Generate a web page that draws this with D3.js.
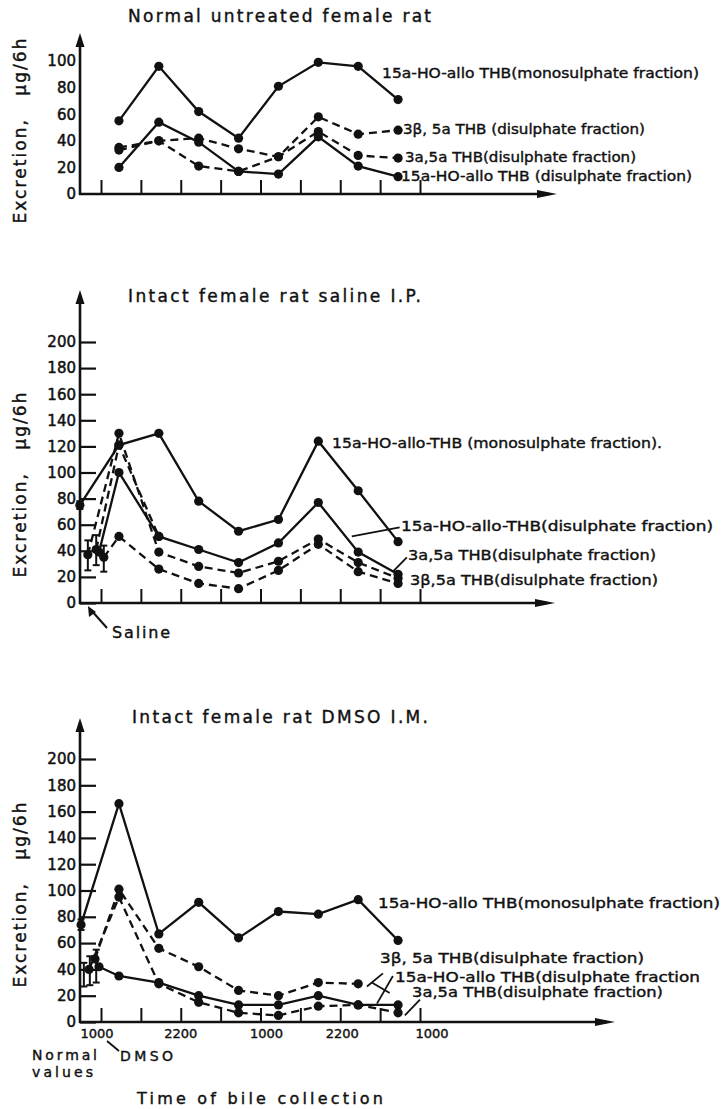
<!DOCTYPE html>
<html>
<head>
<meta charset="utf-8">
<script src="https://cdn.jsdelivr.net/npm/d3@7"></script>
<style>
body{margin:0;background:#fff;}
text{font-family:"DejaVu Sans",sans-serif;fill:#111;}
</style>
</head>
<body>
<svg class="fig" width="723" height="1109"></svg>
<script>
var svg = d3.select("svg.fig");

// 6h collection periods, plotted at the middle of each slot
var slots = [0.45, 1.45, 2.45, 3.45, 4.45, 5.45, 6.45, 7.45];

// Normal untreated female rat
var normalMono  = [55, 96, 62, 42, 81, 99, 96, 71];
var normalBeta  = [35, 40, 42, 34, 28, 58, 45, 48];
var normalAlpha = [33, 40, 21, 17, 28, 47, 29, 27];
var normalHoDi  = [20, 54, 39, 17, 15, 43, 21, 13];

// Intact female rat saline I.P. (first value = sample before injection)
var salineMono  = [75, 121, 130, 78, 55, 64, 124, 86, 47];
var salineHoDi  = [39, 100, 51, 41, 31, 46, 77, 39, 22];
var salineAlpha = [37, 130, 39, 28, 23, 32, 49, 31, 19];
var salineBeta  = [35, 51, 26, 15, 11, 25, 45, 24, 15];
var salineExtra = [41, 121, 51];
var salineStart = {mono: -0.53, hoDi: -0.05, alpha: -0.33, beta: 0.07, extra: -0.12};
var salineErr = [[-0.53, 75, 72, 78], [-0.33, 37, 25, 48], [-0.12, 41, 29, 52], [0.07, 35, 24, 44]];

// Intact female rat DMSO I.M.
var dmsoMono  = [74, 166, 67, 91, 64, 84, 82, 93, 62];
var dmsoBeta  = [48, 101, 56, 42, 24, 20, 30, 29];
var dmsoHoDi  = [42, 35, 30, 20, 13, 13, 20, 13, 13];
var dmsoAlpha = [40, 95, 29, 15, 7, 5, 12, 13, 7];
var dmsoStart = {mono: -0.5, beta: -0.15, hoDi: -0.05, alpha: -0.3};
var dmsoErr = [[-0.5, 74, 70, 78], [-0.43, 37, 27, 45], [-0.28, 40, 28, 50], [-0.12, 44, 30, 55]];

var timeTicks = [0, 1, 2, 3, 4, 5, 6, 7, 8];
var timeLabels = ["1000", "2200", "1000", "2200", "1000"];
var timeLabelPos = [-0.1, 2.0, 4.15, 6.05, 8.3];

var x = d3.scaleLinear().domain([0, 8]).range([101, 420]);

function pts(vals, start){
    return vals.map(function(v, i){
        if(start === undefined) return {x: slots[i], y: v};
        return {x: i === 0 ? start : slots[i-1], y: v};
    });
}

var panels = [
    {
        title: "Normal untreated female rat", tx: 128, ty: 22, tw: 303,
        y: d3.scaleLinear().domain([0, 100]).range([194, 61]),
        top: 33, xEnd: 557, yTicks: [0, 20, 40, 60, 80, 100], tickMarks: false, ylabY: 131,
        series: [
            {p: pts(normalMono), dash: false},
            {p: pts(normalBeta), dash: true},
            {p: pts(normalAlpha), dash: true},
            {p: pts(normalHoDi), dash: false}
        ],
        err: [],
        labels: [
            {t: "15a-HO-allo THB(monosulphate fraction)", x: 382, y: 73, w: 317},
            {t: "3\u03B2, 5a THB (disulphate fraction)", x: 403, y: 129, w: 242},
            {t: "3a,5a THB(disulphate fraction)", x: 405, y: 157, w: 231},
            {t: "15a-HO-allo THB (disulphate fraction)", x: 401, y: 176, w: 291}
        ],
        pointers: []
    },
    {
        title: "Intact female rat saline I.P.", tx: 128, ty: 302, tw: 293,
        y: d3.scaleLinear().domain([0, 200]).range([603, 342]),
        top: 290, xEnd: 555, yTicks: d3.range(0, 201, 20), tickMarks: true, ylabY: 485,
        series: [
            {p: pts(salineMono, salineStart.mono), dash: false},
            {p: pts(salineHoDi, salineStart.hoDi), dash: false},
            {p: pts(salineAlpha, salineStart.alpha), dash: true},
            {p: pts(salineBeta, salineStart.beta), dash: true},
            {p: pts(salineExtra, salineStart.extra), dash: true}
        ],
        err: salineErr,
        labels: [
            {t: "15a-HO-allo-THB (monosulphate fraction).", x: 332, y: 443, w: 330},
            {t: "15a-HO-allo-THB(disulphate fraction)", x: 401, y: 526, w: 312},
            {t: "3a,5a THB(disulphate fraction)", x: 408, y: 555, w: 248},
            {t: "3\u03B2,5a THB(disulphate fraction)", x: 410, y: 580, w: 248}
        ],
        pointers: [[7.49, 58, 6.29, 51], [7.67, 35, 7.32, 24]]
    },
    {
        title: "Intact female rat DMSO I.M.", tx: 132, ty: 723, tw: 296,
        y: d3.scaleLinear().domain([0, 200]).range([1022, 759]),
        top: 718, xEnd: 615, yTicks: d3.range(0, 201, 20), tickMarks: true, ylabY: 895,
        series: [
            {p: pts(dmsoMono, dmsoStart.mono), dash: false},
            {p: pts(dmsoBeta, dmsoStart.beta), dash: true},
            {p: pts(dmsoHoDi, dmsoStart.hoDi), dash: false},
            {p: pts(dmsoAlpha, dmsoStart.alpha), dash: true}
        ],
        err: dmsoErr,
        labels: [
            {t: "15a-HO-allo THB(monosulphate fraction)", x: 378, y: 903, w: 342},
            {t: "3\u03B2, 5a THB(disulphate fraction)", x: 380, y: 958, w: 264},
            {t: "15a-HO-allo THB(disulphate fraction", x: 395, y: 977, w: 305},
            {t: "3a,5a THB(disulphate fraction)", x: 412, y: 992, w: 251}
        ],
        pointers: [[7.07, 37, 6.67, 27], [6.79, 30, 7.24, 22], [7.32, 35, 6.92, 14], [8.0, 17, 7.62, 5]]
    }
];

panels.forEach(function(p){
    var y = p.y;
    var g = svg.append("g");
    var y0 = y(0);

    // title
    g.append("text")
        .attr("x", p.tx).attr("y", p.ty)
        .attr("textLength", p.tw).attr("lengthAdjust", "spacing")
        .style("font-size", "17px")
        .attr("stroke", "#111").attr("stroke-width", 0.4)
        .text(p.title);

    // y label
    g.append("text")
        .attr("transform", "translate(26," + p.ylabY + ") rotate(-90)")
        .attr("text-anchor", "middle")
        .attr("textLength", 185).attr("lengthAdjust", "spacing")
        .style("font-size", "17px")
        .style("white-space", "pre")
        .attr("stroke", "#111").attr("stroke-width", 0.4)
        .text("Excretion,   \u03BCg/6h");

    // y axis with labels (and ticks on the saline / DMSO panels)
    var ya = g.append("g")
        .attr("transform", "translate(80,0)")
        .call(d3.axisLeft(y).tickValues(p.yTicks)
            .tickSize(p.tickMarks ? -16 : 0).tickPadding(4).tickSizeOuter(0));
    ya.select(".domain").remove();
    ya.selectAll("line").attr("stroke", "#111").attr("stroke-width", 2.2);
    ya.selectAll("text").style("font-size", "15px").style("font-family", "DejaVu Sans, sans-serif")
        .attr("fill", "#111").attr("stroke", "#111").attr("stroke-width", 0.5);

    // x axis ticks, pointing up
    var xa = g.append("g")
        .attr("transform", "translate(0," + y0 + ")")
        .call(d3.axisBottom(x).tickValues(timeTicks).tickSize(-14).tickFormat("").tickSizeOuter(0));
    xa.select(".domain").remove();
    xa.selectAll("line").attr("stroke", "#111").attr("stroke-width", 2);

    // axis lines with arrows
    g.append("line").attr("x1", 80).attr("y1", y0 + 1).attr("x2", 80).attr("y2", p.top + 6)
        .attr("stroke", "#111").attr("stroke-width", 2.6);
    g.append("path").attr("d", "M80," + p.top + "L75.5," + (p.top + 14) + "L84.5," + (p.top + 14) + "Z")
        .attr("fill", "#111");
    g.append("line").attr("x1", 79).attr("y1", y0).attr("x2", p.xEnd - 8).attr("y2", y0)
        .attr("stroke", "#111").attr("stroke-width", 2.6);
    g.append("path").attr("d", "M" + p.xEnd + "," + y0 + "L" + (p.xEnd - 20) + "," + (y0 - 4) + "L" + (p.xEnd - 20) + "," + (y0 + 4) + "Z")
        .attr("fill", "#111");

    // series
    var line = d3.line().x(function(d){ return x(d.x); }).y(function(d){ return y(d.y); });
    g.selectAll("path.series")
        .data(p.series)
        .enter().append("path")
        .attr("class", "series")
        .attr("d", function(d){ return line(d.p); })
        .attr("fill", "none")
        .attr("stroke", "#111")
        .attr("stroke-width", 2.3)
        .attr("stroke-dasharray", function(d){ return d.dash ? "8,5" : null; });

    var allPts = [];
    p.series.forEach(function(s){ allPts = allPts.concat(s.p); });
    g.selectAll("circle")
        .data(allPts)
        .enter().append("circle")
        .attr("cx", function(d){ return x(d.x); })
        .attr("cy", function(d){ return y(d.y); })
        .attr("r", 4.6)
        .attr("fill", "#111");

    // error bars of the pre-treatment samples
    var eb = g.selectAll("g.err").data(p.err).enter().append("g").attr("class", "err");
    eb.append("line")
        .attr("x1", function(d){ return x(d[0]); }).attr("x2", function(d){ return x(d[0]); })
        .attr("y1", function(d){ return y(d[2]); }).attr("y2", function(d){ return y(d[3]); });
    eb.append("line")
        .attr("x1", function(d){ return x(d[0]) - 3.5; }).attr("x2", function(d){ return x(d[0]) + 3.5; })
        .attr("y1", function(d){ return y(d[2]); }).attr("y2", function(d){ return y(d[2]); });
    eb.append("line")
        .attr("x1", function(d){ return x(d[0]) - 3.5; }).attr("x2", function(d){ return x(d[0]) + 3.5; })
        .attr("y1", function(d){ return y(d[3]); }).attr("y2", function(d){ return y(d[3]); });
    eb.selectAll("line").attr("stroke", "#111").attr("stroke-width", 2);

    // labels and leader lines
    g.selectAll("text.lab")
        .data(p.labels)
        .enter().append("text")
        .attr("class", "lab")
        .attr("x", function(d){ return d.x; })
        .attr("y", function(d){ return d.y; })
        .attr("dy", "0.36em")
        .attr("textLength", function(d){ return d.w; })
        .attr("lengthAdjust", "spacingAndGlyphs")
        .style("font-size", "14px")
        .attr("stroke", "#111").attr("stroke-width", 0.4)
        .text(function(d){ return d.t; });

    g.selectAll("line.ptr")
        .data(p.pointers)
        .enter().append("line")
        .attr("class", "ptr")
        .attr("x1", function(d){ return x(d[0]); }).attr("y1", function(d){ return y(d[1]); })
        .attr("x2", function(d){ return x(d[2]); }).attr("y2", function(d){ return y(d[3]); })
        .attr("stroke", "#111").attr("stroke-width", 1.8);

    p.y0 = y0;
});

// saline injection marker
var sal = panels[1];
svg.append("line").attr("x1", 107).attr("y1", sal.y0 + 25).attr("x2", 91).attr("y2", sal.y0 + 7)
    .attr("stroke", "#111").attr("stroke-width", 2);
svg.append("path").attr("d", "M" + 88 + "," + (sal.y0 + 3) + "L" + 89 + "," + (sal.y0 + 14) + "L" + 96 + "," + (sal.y0 + 9) + "Z")
    .attr("fill", "#111");
svg.append("text").attr("x", 112).attr("y", sal.y0 + 35)
    .attr("textLength", 58).attr("lengthAdjust", "spacing")
    .attr("stroke", "#111").attr("stroke-width", 0.4)
    .style("font-size", "16px").text("Saline");

// DMSO panel: clock times and notes
var dm = panels[2];
svg.selectAll("text.time")
    .data(timeLabels)
    .enter().append("text")
    .attr("class", "time")
    .attr("x", function(d, i){ return x(timeLabelPos[i]); })
    .attr("y", dm.y0 + 16)
    .attr("text-anchor", "middle")
    .style("font-size", "13px")
    .attr("stroke", "#111").attr("stroke-width", 0.4)
    .text(function(d){ return d; });

svg.append("text").attr("x", 32).attr("y", dm.y0 + 38).style("font-size", "14px")
    .attr("stroke", "#111").attr("stroke-width", 0.4)
    .attr("textLength", 65).attr("lengthAdjust", "spacing").text("Normal");
svg.append("text").attr("x", 32).attr("y", dm.y0 + 55).style("font-size", "14px")
    .attr("stroke", "#111").attr("stroke-width", 0.4)
    .attr("textLength", 61).attr("lengthAdjust", "spacing").text("values");
svg.append("text").attr("x", 120).attr("y", dm.y0 + 39).style("font-size", "14px")
    .attr("stroke", "#111").attr("stroke-width", 0.4)
    .attr("textLength", 53).attr("lengthAdjust", "spacing").text("DMSO");
svg.append("line").attr("x1", 107).attr("y1", dm.y0 + 19).attr("x2", 119).attr("y2", dm.y0 + 29)
    .attr("stroke", "#111").attr("stroke-width", 1.8);

svg.append("text").attr("x", 137).attr("y", dm.y0 + 82)
    .attr("textLength", 246).attr("lengthAdjust", "spacing")
    .attr("stroke", "#111").attr("stroke-width", 0.4)
    .style("font-size", "16px").text("Time of bile collection");
</script>
</body>
</html>
